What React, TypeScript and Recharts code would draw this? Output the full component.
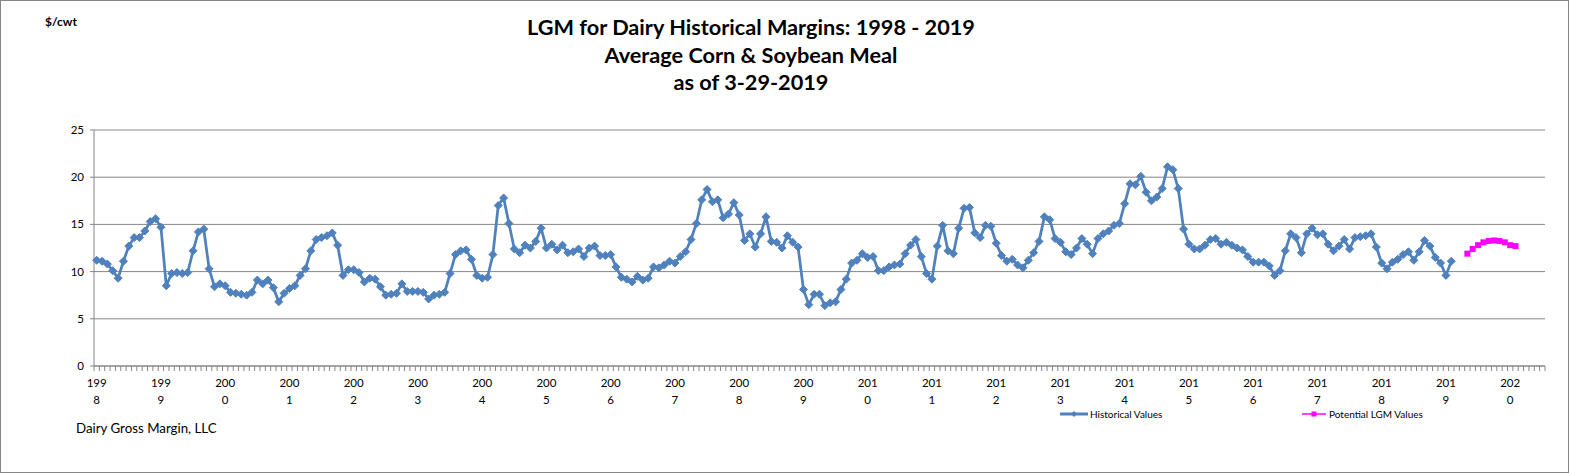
import { LineChart, Line, XAxis, YAxis, CartesianGrid } from 'recharts';

// one category per month, Jan 1998 .. Jul 2020
const YEARS = [
  '1998', '1999', '2000', '2001', '2002', '2003', '2004', '2005', '2006', '2007', '2008', '2009',
  '2010', '2011', '2012', '2013', '2014', '2015', '2016', '2017', '2018', '2019', '2020',
];
const MONTHS = ['01', '02', '03', '04', '05', '06', '07', '08', '09', '10', '11', '12'];
const MONTH_COUNT = 271;

// $/cwt margin, Jan 1998 .. Feb 2019
const HIST_START = '1998-01';
const historical = [
  11.2, 11.1, 10.8, 10.1, 9.3, 11.1, 12.7, 13.6, 13.6, 14.3, 15.3, 15.6,
  14.7, 8.5, 9.8, 9.9, 9.8, 9.9, 12.2, 14.2, 14.5, 10.3, 8.4, 8.7,
  8.5, 7.8, 7.7, 7.6, 7.5, 7.8, 9.1, 8.7, 9.1, 8.3, 6.8, 7.7,
  8.2, 8.5, 9.6, 10.3, 12.2, 13.4, 13.6, 13.8, 14.1, 12.8, 9.6, 10.2,
  10.2, 9.9, 8.9, 9.3, 9.2, 8.4, 7.5, 7.6, 7.7, 8.7, 7.9, 7.9,
  7.9, 7.8, 7.1, 7.5, 7.6, 7.8, 9.8, 11.8, 12.2, 12.3, 11.3, 9.6,
  9.3, 9.4, 11.8, 17.0, 17.8, 15.1, 12.4, 12.0, 12.8, 12.5, 13.2, 14.6,
  12.5, 12.9, 12.3, 12.8, 12.0, 12.1, 12.4, 11.6, 12.5, 12.7, 11.7, 11.7,
  11.8, 10.5, 9.4, 9.2, 8.9, 9.5, 9.1, 9.3, 10.5, 10.4, 10.7, 11.1,
  10.9, 11.6, 12.1, 13.4, 15.1, 17.6, 18.7, 17.4, 17.6, 15.7, 16.1, 17.3,
  16.0, 13.3, 14.0, 12.6, 14.0, 15.8, 13.2, 13.1, 12.5, 13.8, 13.1, 12.6,
  8.1, 6.5, 7.6, 7.6, 6.4, 6.7, 6.8, 8.1, 9.2, 10.9, 11.2, 11.9,
  11.5, 11.6, 10.1, 10.1, 10.5, 10.7, 10.8, 11.9, 12.8, 13.4, 11.6, 9.8,
  9.2, 12.7, 14.9, 12.2, 11.9, 14.6, 16.7, 16.8, 14.1, 13.6, 14.9, 14.8,
  13.0, 11.7, 11.1, 11.3, 10.7, 10.4, 11.2, 12.0, 13.2, 15.8, 15.5, 13.5,
  13.1, 12.1, 11.8, 12.5, 13.5, 12.9, 11.9, 13.5, 14.0, 14.3, 14.9, 15.1,
  17.2, 19.3, 19.2, 20.1, 18.4, 17.5, 17.9, 18.8, 21.1, 20.8, 18.8, 14.5,
  12.9, 12.4, 12.4, 12.8, 13.4, 13.5, 12.9, 13.1, 12.8, 12.5, 12.3, 11.6,
  11.0, 11.0, 11.0, 10.6, 9.6, 10.1, 12.2, 14.0, 13.6, 12.0, 14.0, 14.6,
  13.9, 14.0, 12.9, 12.2, 12.7, 13.4, 12.4, 13.6, 13.7, 13.8, 14.0, 12.6,
  10.9, 10.3, 11.0, 11.3, 11.8, 12.1, 11.2, 12.1, 13.3, 12.7, 11.5, 10.9,
  9.6, 11.1,
];

// potential LGM margin, May 2019 .. Feb 2020
const POTENTIAL_START = '2019-05';
const potential = [11.9, 12.4, 12.8, 13.1, 13.25, 13.3, 13.25, 13.1, 12.8, 12.7];

const Y_TICKS = [0, 5, 10, 15, 20, 25];

const W = 1569;
const H = 473;
const PLOT_LEFT = 94;
const PLOT_RIGHT = 1545;
const PLOT_TOP = 130;
const PLOT_BOTTOM = 366;
const Y_AXIS_W = 30;
const X_AXIS_H = 40;

const BLUE = '#4F81BD';
const MAGENTA = '#FF00FF';
const GRID = '#868686';
const FONT = 'Lato, "Open Sans", sans-serif';

const categories = YEARS.flatMap(y => MONTHS.map(m => `${y}-${m}`)).slice(0, MONTH_COUNT);
const histOffset = categories.indexOf(HIST_START);
const potOffset = categories.indexOf(POTENTIAL_START);

const data = categories.map((month, i) => ({
  month,
  historical: i >= histOffset ? historical[i - histOffset] ?? null : null,
  potential: i >= potOffset ? potential[i - potOffset] ?? null : null,
}));

const BAND = (PLOT_RIGHT - PLOT_LEFT) / categories.length;

function MonthTick({ x, y, payload, index }: any) {
  const value: string = payload?.value ?? '';
  const isYear = value.endsWith('-01');
  const year = value.slice(0, 4);
  const isLast = index === categories.length - 1;
  return (
    <g>
      <line x1={x - BAND / 2} x2={x - BAND / 2} y1={y} y2={y + 5} stroke={GRID} />
      {isLast && <line x1={x + BAND / 2} x2={x + BAND / 2} y1={y} y2={y + 5} stroke={GRID} />}
      {isYear && (
        <text textAnchor="middle" fontSize={11.5} fontFamily={FONT} fill="#000">
          <tspan x={x} y={y + 21}>{year.slice(0, 3)}</tspan>
          <tspan x={x} y={y + 38}>{year.slice(3)}</tspan>
        </text>
      )}
    </g>
  );
}

function DiamondDot({ cx, cy, index }: any) {
  if (cx == null || cy == null) return <g key={`d-${index}`} />;
  const r = 4;
  return (
    <path
      key={`d-${index}`}
      d={`M${cx},${cy - r}L${cx + r},${cy}L${cx},${cy + r}L${cx - r},${cy}Z`}
      fill={BLUE}
      stroke={BLUE}
    />
  );
}

function SquareDot({ cx, cy, index }: any) {
  if (cx == null || cy == null) return <g key={`s-${index}`} />;
  const r = 3;
  return <rect key={`s-${index}`} x={cx - r} y={cy - r} width={r * 2} height={r * 2} fill={MAGENTA} />;
}

export default function App() {
  return (
    <div style={{ position: 'absolute', left: 0, top: 0, width: W, height: H, background: '#fff', fontFamily: FONT }}>
      <LineChart
        width={W}
        height={H}
        data={data}
        margin={{
          top: PLOT_TOP,
          right: W - PLOT_RIGHT,
          left: PLOT_LEFT - Y_AXIS_W,
          bottom: H - PLOT_BOTTOM - X_AXIS_H,
        }}
      >
        <CartesianGrid vertical={false} stroke={GRID} />
        <XAxis
          dataKey="month"
          scale="band"
          interval={0}
          height={X_AXIS_H}
          tickSize={0}
          tickMargin={0}
          tickLine={false}
          axisLine={{ stroke: GRID }}
          tick={<MonthTick />}
        />
        <YAxis
          width={Y_AXIS_W}
          domain={[0, 25]}
          ticks={Y_TICKS}
          tickSize={4}
          tickMargin={6}
          tickLine={{ stroke: GRID }}
          axisLine={{ stroke: GRID }}
          tick={{ fill: '#000', fontSize: 11.5, fontFamily: FONT }}
        />
        <Line
          dataKey="historical"
          stroke={BLUE}
          strokeWidth={2.75}
          dot={DiamondDot}
          activeDot={false}
          connectNulls={false}
          isAnimationActive={false}
        />
        <Line
          dataKey="potential"
          stroke={MAGENTA}
          strokeWidth={1.5}
          dot={SquareDot}
          activeDot={false}
          connectNulls={false}
          isAnimationActive={false}
        />
      </LineChart>

      {/* titles */}
      <div style={{ position: 'absolute', left: 0, top: 14, width: 1502, textAlign: 'center', fontWeight: 700, fontSize: 21.7, lineHeight: '27.5px', color: '#000' }}>
        <div>LGM for Dairy Historical Margins: 1998 - 2019</div>
        <div>Average Corn &amp; Soybean Meal</div>
        <div>as of 3-29-2019</div>
      </div>
      <div style={{ position: 'absolute', left: 45, top: 14, fontWeight: 700, fontSize: 12, color: '#000' }}>$/cwt</div>
      <div style={{ position: 'absolute', left: 76, top: 420, fontSize: 13.3, color: '#000' }}>Dairy Gross Margin, LLC</div>

      {/* legend */}
      <div style={{ position: 'absolute', left: 1060, top: 407, height: 14, display: 'flex', alignItems: 'center', fontSize: 10, color: '#000' }}>
        <svg width={29} height={14}>
          <line x1={0} x2={28} y1={7} y2={7} stroke={BLUE} strokeWidth={3} />
          <path d="M14,4L17,7L14,10L11,7Z" fill={BLUE} />
        </svg>
        <span style={{ marginLeft: 1 }}>Historical Values</span>
      </div>
      <div style={{ position: 'absolute', left: 1302, top: 407, height: 14, display: 'flex', alignItems: 'center', fontSize: 10, color: '#000' }}>
        <svg width={25} height={14}>
          <line x1={0} x2={24} y1={7} y2={7} stroke={MAGENTA} strokeWidth={1.5} />
          <rect x={9.5} y={4.5} width={5} height={5} fill={MAGENTA} />
        </svg>
        <span style={{ marginLeft: 2 }}>Potential LGM Values</span>
      </div>

      {/* chart area border */}
      <div style={{ position: 'absolute', left: 0, top: 0, width: W, height: H, boxSizing: 'border-box', border: `1px solid ${GRID}`, pointerEvents: 'none' }} />
    </div>
  );
}
